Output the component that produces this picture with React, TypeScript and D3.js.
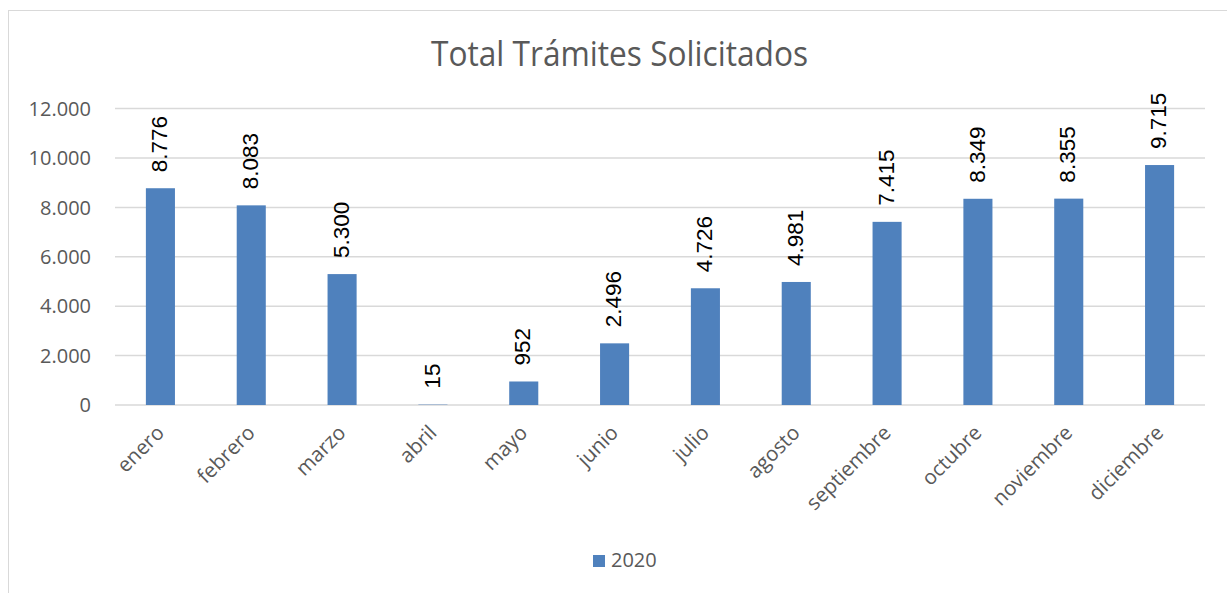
import * as d3 from "d3";

const MONTHS = [
  "enero",
  "febrero",
  "marzo",
  "abril",
  "mayo",
  "junio",
  "julio",
  "agosto",
  "septiembre",
  "octubre",
  "noviembre",
  "diciembre",
];
const VALUES_2020 = [8776, 8083, 5300, 15, 952, 2496, 4726, 4981, 7415, 8349, 8355, 9715];
const Y_TICKS = [0, 2000, 4000, 6000, 8000, 10000, 12000];
const SERIES_NAME = "2020";
const TITLE = "Total Trámites Solicitados";

const W = 1227;
const H = 593;
const plot = { left: 115, right: 1205, top: 108.6, bottom: 405 };

const BAR = "#4f81bd";
const GRID = "#d9d9d9";
const MUTED = "#595959";
const FONT = "'Open Sans', Calibri, sans-serif";

// 12.000 style
const fmt = (v: number) => d3.format(",")(v).replace(/,/g, ".");

export default function App() {
  const x = d3
    .scaleBand<string>()
    .domain(MONTHS)
    .range([plot.left, plot.right])
    .paddingInner(0.68)
    .paddingOuter(0.34);

  const y = d3.scaleLinear().domain([0, 12000]).range([plot.bottom, plot.top]);

  const center = (m: string) => (x(m) ?? 0) + x.bandwidth() / 2;

  return (
    <svg
      width={W}
      height={H}
      style={{ position: "absolute", left: 0, top: 0, background: "#fff" }}
    >
      <rect x={8.5} y={10.5} width={1222} height={620} fill="#fff" stroke={GRID} />

      <text
        x={619.5}
        y={66}
        textAnchor="middle"
        fontFamily={FONT}
        fontSize={34}
        fill={MUTED}
        textLength={377}
        lengthAdjust="spacingAndGlyphs"
      >
        {TITLE}
      </text>

      {/* gridlines + y labels */}
      {Y_TICKS.map((t) => (
        <g key={t}>
          <line
            x1={plot.left}
            x2={plot.right}
            y1={y(t)}
            y2={y(t)}
            stroke={GRID}
            strokeWidth={1.5}
          />
          <text
            x={91}
            y={y(t)}
            dy="0.36em"
            textAnchor="end"
            fontFamily={FONT}
            fontSize={20}
            fill={MUTED}
          >
            {fmt(t)}
          </text>
        </g>
      ))}

      {/* bars */}
      {MONTHS.map((m, i) => (
        <rect
          key={m}
          x={x(m)}
          y={y(VALUES_2020[i])}
          width={x.bandwidth()}
          height={plot.bottom - y(VALUES_2020[i])}
          fill={BAR}
        />
      ))}

      {/* data labels */}
      {MONTHS.map((m, i) => {
        const cx = center(m) - 1.5;
        const cy = y(VALUES_2020[i]) - 16;
        return (
          <text
            key={m}
            transform={`translate(${cx},${cy}) rotate(-90)`}
            dy="0.36em"
            fontFamily="'Liberation Sans', Arial, sans-serif"
            fontSize={22.5}
            fill="#000"
          >
            {fmt(VALUES_2020[i])}
          </text>
        );
      })}

      {/* month labels */}
      {MONTHS.map((m) => (
        <text
          key={m}
          transform={`translate(${center(m) + 5},${plot.bottom + 29}) rotate(-45)`}
          textAnchor="end"
          fontFamily={FONT}
          fontSize={20.5}
          fill={MUTED}
        >
          {m}
        </text>
      ))}

      {/* legend */}
      <rect x={593} y={555} width={12} height={12} fill={BAR} />
      <text x={611} y={567} fontFamily={FONT} fontSize={20} fill={MUTED}>
        {SERIES_NAME}
      </text>
    </svg>
  );
}
